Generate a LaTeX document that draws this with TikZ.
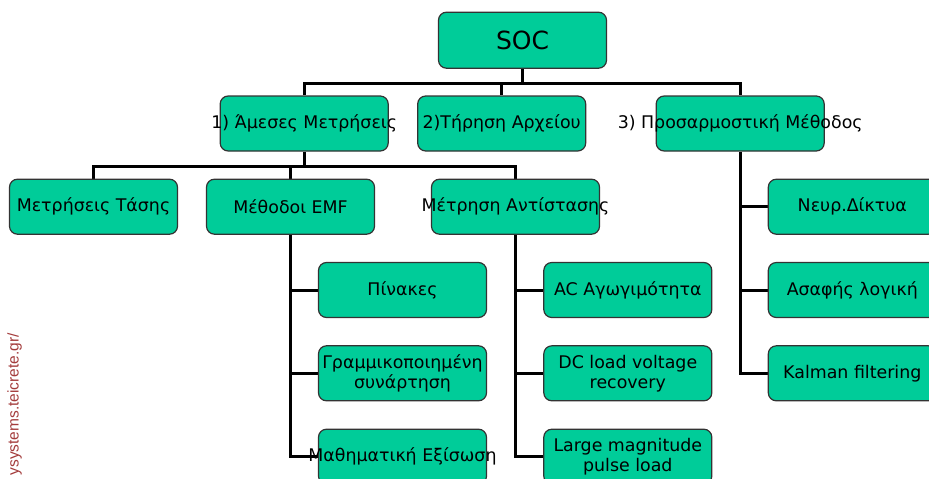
\documentclass[tikz,border=0pt]{standalone}
\usepackage{fontspec}
\setmainfont{DejaVu Sans}
\newfontfamily\wmfont{Liberation Sans}
\usetikzlibrary{backgrounds}
\definecolor{socgreen}{HTML}{00CC99}
\definecolor{boxline}{HTML}{333333}
\definecolor{wmred}{HTML}{A33B3B}
\tikzset{
  box/.style={draw=boxline, line width=1.2pt, fill=socgreen, rounded corners=8pt,
    minimum width=168pt, minimum height=55pt, inner xsep=-40pt, inner ysep=0pt,
    align=center, font=\fontsize{17.4}{20}\selectfont},
  conn/.style={line width=3pt}
}
\begin{document}
\begin{tikzpicture}[x=1pt,y=-1pt]
\useasboundingbox (0,0) rectangle (929,479);
\node[box, minimum height=56pt, font=\fontsize{25}{25}\selectfont] (soc) at (522.5,40.2) {SOC};
\node[box] (amesses) at (304.2,123.5) {1) Άμεσες Μετρήσεις};
\node[box] (tirisi) at (501.7,123.5) {2)Τήρηση Αρχείου};
\node[box] (prosarm) at (740.2,123.5) {3) Προσαρμοστική Μέθοδος};
\node[box] (tasi) at (93.5,206.7) {Μετρήσεις Τάσης};
\node[box] (emf) at (290.5,206.7) {Μέθοδοι EMF};
\node[box] (antist) at (515.5,206.7) {Μέτρηση Αντίστασης};
\node[box] (pinakes) at (402.5,290) {Πίνακες};
\node[box] (grammiko) at (402.5,373.3) {Γραμμικοποιημένη\\συνάρτηση};
\node[box] (mathim) at (402.5,456.7) {Μαθηματική Εξίσωση};
\node[box] (acag) at (627.8,290) {AC Αγωγιμότητα};
\node[box] (dcload) at (627.8,373.3) {DC load voltage\\recovery};
\node[box] (large) at (627.8,456.7) {Large magnitude\\pulse load};
\node[box] (nevr) at (852.3,206.7) {Νευρ.Δίκτυα};
\node[box] (asafis) at (852.3,290) {Ασαφής λογική};
\node[box] (kalman) at (852.3,373.3) {Kalman filtering};
\node[rotate=90, anchor=west, text=wmred, font=\wmfont\fontsize{15.5}{15.5}\selectfont] (url) at (14.5,479) {ysystems.teicrete.gr/};
\coordinate (bus1) at (0,83.3);
\coordinate (bus2) at (0,166.7);
\begin{scope}[on background layer]
\draw[conn] (soc.south) -- (soc.south |- bus1);
\draw[conn] (amesses.north) |- (prosarm.north |- bus1) -- (prosarm.north);
\draw[conn] (tirisi.north) -- (tirisi.north |- bus1);
\draw[conn] (amesses.south) -- (amesses.south |- bus2);
\draw[conn] (tasi.north) |- (antist.north |- bus2) -- (antist.north);
\draw[conn] (emf.north) -- (emf.north |- bus2);
\draw[conn] (emf.south) |- (mathim.west);
\foreach \n in {pinakes,grammiko}
  \draw[conn] (emf.south |- \n.west) -- (\n.west);
\draw[conn] (antist.south) |- (large.west);
\foreach \n in {acag,dcload}
  \draw[conn] (antist.south |- \n.west) -- (\n.west);
\draw[conn] (prosarm.south) |- (kalman.west);
\foreach \n in {nevr,asafis}
  \draw[conn] (prosarm.south |- \n.west) -- (\n.west);
\end{scope}
\end{tikzpicture}
\end{document}
